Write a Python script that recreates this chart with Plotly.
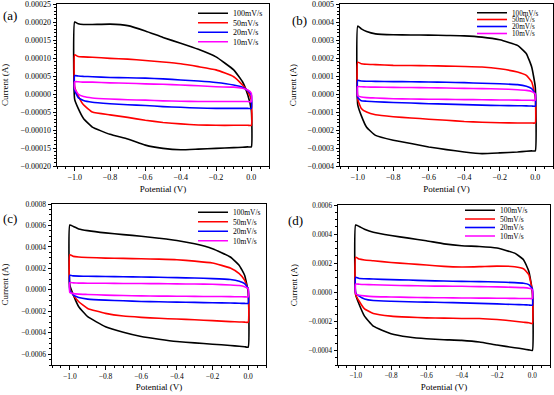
import plotly.graph_objects as go

# ---------------- data (current in units of 1e-4 A) ----------------
UNIT = 1e-4
POTENTIAL = [-1.0, -0.98, -0.95, -0.9, -0.8, -0.7, -0.6, -0.5, -0.4, -0.3, -0.2, -0.1, -0.05, -0.02, 0.0]
RATES = ["100mV/s", "50mV/s", "20mV/s", "10mV/s"]
PANELS = ["(a)", "(b)", "(c)", "(d)"]

# panel (a)
a_100_fwd = [2.00, 1.95, 1.93, 1.93, 1.94, 1.90, 1.75, 1.57, 1.41, 1.24, 1.03, 0.67, 0.34, -0.03, -0.45]
a_100_rev = [-0.15, -0.40, -0.68, -0.92, -1.12, -1.25, -1.42, -1.51, -1.55, -1.53, -1.51, -1.49, -1.48, -1.47, -1.47]
a_50_fwd = [1.09, 1.04, 1.03, 1.02, 0.99, 0.97, 0.93, 0.89, 0.84, 0.76, 0.67, 0.48, 0.25, 0.07, -0.17]
a_50_rev = [0.20, -0.05, -0.30, -0.50, -0.58, -0.65, -0.73, -0.79, -0.83, -0.86, -0.87, -0.87, -0.87, -0.87, -0.87]
a_20_fwd = [0.51, 0.50, 0.49, 0.48, 0.46, 0.45, 0.44, 0.42, 0.39, 0.36, 0.32, 0.25, 0.19, 0.09, -0.03]
a_20_rev = [0.10, -0.10, -0.18, -0.23, -0.27, -0.30, -0.32, -0.35, -0.37, -0.39, -0.40, -0.40, -0.40, -0.40, -0.40]
a_10_fwd = [0.34, 0.34, 0.33, 0.33, 0.31, 0.30, 0.28, 0.27, 0.25, 0.23, 0.20, 0.19, 0.16, 0.11, 0.02]
a_10_rev = [0.15, 0.00, -0.07, -0.11, -0.14, -0.16, -0.17, -0.19, -0.20, -0.21, -0.21, -0.21, -0.21, -0.21, -0.21]

# panel (b)
b_100_fwd = [3.77, 3.62, 3.47, 3.34, 3.29, 3.28, 3.27, 3.25, 3.23, 3.16, 3.01, 2.70, 2.24, 1.50, 0.40]
b_100_rev = [-0.60, -1.20, -1.85, -2.30, -2.57, -2.75, -2.94, -3.09, -3.22, -3.31, -3.27, -3.22, -3.18, -3.16, -3.16]
b_50_fwd = [1.77, 1.68, 1.65, 1.63, 1.59, 1.58, 1.57, 1.55, 1.53, 1.50, 1.40, 1.22, 1.03, 0.67, -0.17]
b_50_rev = [-0.30, -0.80, -1.00, -1.15, -1.26, -1.33, -1.40, -1.46, -1.53, -1.57, -1.60, -1.61, -1.61, -1.61, -1.61]
b_20_fwd = [0.76, 0.72, 0.71, 0.70, 0.69, 0.68, 0.67, 0.65, 0.63, 0.60, 0.57, 0.52, 0.43, 0.30, 0.00]
b_20_rev = [-0.20, -0.38, -0.40, -0.43, -0.47, -0.50, -0.54, -0.56, -0.59, -0.62, -0.64, -0.65, -0.66, -0.67, -0.67]
b_10_fwd = [0.41, 0.40, 0.39, 0.38, 0.37, 0.36, 0.35, 0.33, 0.31, 0.30, 0.28, 0.24, 0.20, 0.14, 0.00]
b_10_rev = [-0.10, -0.17, -0.20, -0.22, -0.26, -0.28, -0.29, -0.30, -0.31, -0.32, -0.33, -0.34, -0.35, -0.35, -0.35]

# panel (c)
c_100_fwd = [6.05, 5.90, 5.68, 5.52, 5.31, 5.15, 5.00, 4.81, 4.60, 4.29, 3.83, 3.06, 2.28, 1.36, -0.19]
c_100_rev = [0.43, -0.49, -1.57, -2.50, -3.43, -3.95, -4.35, -4.60, -4.81, -4.94, -5.06, -5.18, -5.25, -5.30, -5.34]
c_50_fwd = [3.27, 3.12, 3.06, 3.02, 2.96, 2.93, 2.90, 2.86, 2.81, 2.68, 2.50, 2.04, 1.51, 0.90, -0.03]
c_50_rev = [0.12, -0.49, -1.11, -1.73, -2.19, -2.44, -2.56, -2.65, -2.72, -2.78, -2.87, -2.96, -2.99, -3.01, -3.02]
c_20_fwd = [1.36, 1.30, 1.28, 1.27, 1.25, 1.22, 1.20, 1.17, 1.14, 1.10, 1.05, 0.96, 0.80, 0.59, 0.12]
c_20_rev = [-0.03, -0.49, -0.71, -0.86, -0.96, -1.02, -1.08, -1.11, -1.14, -1.17, -1.20, -1.23, -1.25, -1.26, -1.27]
c_10_fwd = [0.68, 0.65, 0.63, 0.62, 0.61, 0.60, 0.59, 0.58, 0.56, 0.54, 0.52, 0.46, 0.40, 0.30, 0.12]
c_10_rev = [-0.25, -0.35, -0.40, -0.43, -0.49, -0.53, -0.56, -0.58, -0.59, -0.61, -0.62, -0.63, -0.64, -0.65, -0.65]

# panel (d)
d_100_fwd = [4.63, 4.52, 4.34, 4.13, 3.90, 3.72, 3.54, 3.33, 3.20, 3.15, 3.04, 2.69, 2.24, 1.44, 0.07]
d_100_rev = [-0.16, -0.84, -1.64, -2.33, -2.85, -3.08, -3.20, -3.26, -3.31, -3.42, -3.63, -3.81, -3.90, -3.96, -4.00]
d_50_fwd = [2.40, 2.28, 2.22, 2.17, 2.05, 1.96, 1.87, 1.78, 1.74, 1.76, 1.80, 1.76, 1.62, 1.21, 0.07]
d_50_rev = [-0.16, -0.62, -1.14, -1.46, -1.64, -1.71, -1.76, -1.78, -1.80, -1.80, -1.87, -1.99, -2.06, -2.10, -2.15]
d_20_fwd = [1.03, 0.95, 0.93, 0.91, 0.87, 0.84, 0.80, 0.77, 0.75, 0.73, 0.71, 0.66, 0.62, 0.53, 0.25]
d_20_rev = [-0.05, -0.27, -0.46, -0.57, -0.62, -0.65, -0.68, -0.70, -0.73, -0.76, -0.80, -0.84, -0.86, -0.88, -0.89]
d_10_fwd = [0.57, 0.55, 0.53, 0.52, 0.48, 0.46, 0.43, 0.42, 0.41, 0.39, 0.37, 0.34, 0.32, 0.28, 0.18]
d_10_rev = [-0.11, -0.20, -0.25, -0.30, -0.32, -0.35, -0.37, -0.38, -0.39, -0.40, -0.41, -0.42, -0.43, -0.43, -0.43]

SERIES = {
    "a": [(a_100_fwd, a_100_rev), (a_50_fwd, a_50_rev), (a_20_fwd, a_20_rev), (a_10_fwd, a_10_rev)],
    "b": [(b_100_fwd, b_100_rev), (b_50_fwd, b_50_rev), (b_20_fwd, b_20_rev), (b_10_fwd, b_10_rev)],
    "c": [(c_100_fwd, c_100_rev), (c_50_fwd, c_50_rev), (c_20_fwd, c_20_rev), (c_10_fwd, c_10_rev)],
    "d": [(d_100_fwd, d_100_rev), (d_50_fwd, d_50_rev), (d_20_fwd, d_20_rev), (d_10_fwd, d_10_rev)],
}

# ---------------- styling / layout ----------------
W, H = 554, 395
COLORS = ["#000000", "#FF0000", "#0000FF", "#FF00FF"]
FONT = "Liberation Serif, Times New Roman, serif"

# pixel boxes: (left, right, top, bottom)
BOX = {"a": (57, 269, 4, 166), "b": (340, 553, 4, 166),
       "c": (52, 266, 204, 365), "d": (338, 550, 205, 365)}
YRANGE = {"a": (-0.0002, 0.00025), "b": (-0.0004, 0.0005),
          "c": (-0.0007, 0.0008), "d": (-0.0005, 0.0006)}
YDTICK = {"a": 0.00005, "b": 0.0001, "c": 0.0002, "d": 0.0002}
YFMT = {"a": ".5f", "b": ".4f", "c": ".4f", "d": ".4f"}
TICKFONT = {"a": 8, "b": 8, "c": 7.5, "d": 7.2}
LEGFONT = {"a": 8, "b": 7.2, "c": 7.5, "d": 7.5}
LEG_TEXT_X = {"a": 235, "b": 514, "c": 235, "d": 502}
LEG_ROWS = {"a": [13.3, 22.7, 32.3, 41.7], "b": [12.7, 19.5, 26.5, 33.5],
            "c": [212.3, 221.7, 231.3, 240.7], "d": [210.3, 219, 227.5, 236]}
LABEL_POS = {"a": (10, 16), "b": (299, 21), "c": (10, 219), "d": (295, 220)}
YTITLE_STANDOFF = {"a": 14, "b": 9, "c": 11, "d": 9}

fig = go.Figure()
layout = dict(
    width=W, height=H, margin=dict(l=0, r=0, t=0, b=0, autoexpand=False),
    paper_bgcolor="white", plot_bgcolor="white",
    font=dict(family=FONT, color="black"),
    showlegend=True, annotations=[],
)

leg_idx = 0
for k, key in enumerate(["a", "b", "c", "d"]):
    l, r, t, b = BOX[key]
    n = "" if k == 0 else str(k + 1)
    xa, ya = "x" + n, "y" + n
    common = dict(showline=True, linecolor="black", linewidth=1, mirror=True,
                  ticks="outside", ticklen=3.5, tickwidth=1, tickcolor="black",
                  showgrid=False, zeroline=False, ticklabeloverflow="allow",
                  tickfont=dict(family=FONT, size=TICKFONT[key], color="black"),
                  minor=dict(ticks="outside", ticklen=2, tickcolor="black", tickwidth=1))
    layout["xaxis" + n] = dict(common, domain=[l / W, r / W], range=[-1.1, 0.1],
                               anchor=ya, dtick=0.2, tick0=0, tickformat=".1f",
                               title=dict(text="Potential (V)", font=dict(family=FONT, size=9), standoff=4))
    layout["yaxis" + n] = dict(common, domain=[1 - b / H, 1 - t / H], range=list(YRANGE[key]),
                               anchor=xa, dtick=YDTICK[key], tick0=0, tickformat=YFMT[key],
                               title=dict(text="Current (A)", font=dict(family=FONT, size=9),
                                          standoff=YTITLE_STANDOFF[key]))
    for j, (fwd, rev) in enumerate(SERIES[key]):
        xs = POTENTIAL + POTENTIAL[::-1] + [POTENTIAL[0]]
        ys = [v * UNIT for v in fwd] + [v * UNIT for v in rev[::-1]] + [fwd[0] * UNIT]
        lid = "legend" if leg_idx == 0 else f"legend{leg_idx + 1}"
        fig.add_trace(go.Scatter(x=xs, y=ys, mode="lines", name=RATES[j],
                                 line=dict(color=COLORS[j], width=1.6, shape="spline", smoothing=0.4),
                                 xaxis=xa, yaxis=ya, legend=lid, showlegend=True))
        layout[lid] = dict(x=(LEG_TEXT_X[key] - 42) / W, y=1 - LEG_ROWS[key][j] / H,
                           xanchor="left", yanchor="middle", bgcolor="rgba(0,0,0,0)",
                           borderwidth=0, font=dict(family=FONT, size=LEGFONT[key]),
                           itemwidth=30)
        leg_idx += 1
    px, py = LABEL_POS[key]
    layout["annotations"].append(dict(text=PANELS[k], x=px / W, y=1 - py / H, xref="paper", yref="paper",
                                      showarrow=False, xanchor="center", yanchor="middle",
                                      font=dict(family=FONT, size=13, color="black")))

fig.update_layout(**layout)
fig.write_html("out.html", config={"displayModeBar": False},
               post_script="document.body.style.margin='0';document.body.style.overflow='hidden';")
